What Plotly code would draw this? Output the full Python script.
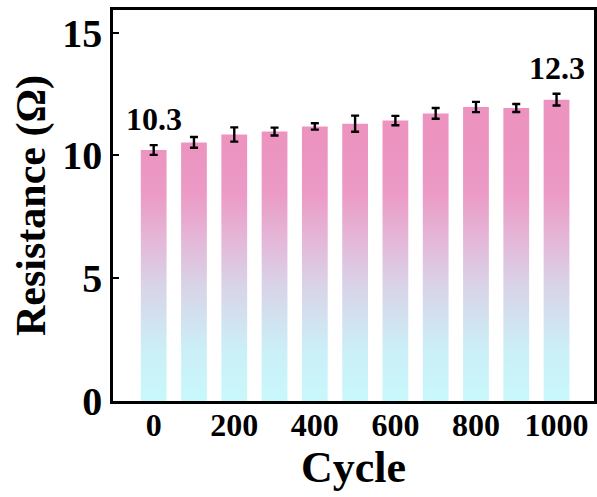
import plotly.graph_objects as go

cycles = [0, 100, 200, 300, 400, 500, 600, 700, 800, 900, 1000]
resistance = [10.22, 10.53, 10.85, 10.97, 11.18, 11.29, 11.42, 11.71, 11.97, 11.93, 12.27]
errors = [0.20, 0.22, 0.29, 0.16, 0.13, 0.33, 0.19, 0.22, 0.21, 0.16, 0.24]
x_ticks = [0, 200, 400, 600, 800, 1000]
y_ticks = [0, 5, 10, 15]
labels = {0: "10.3", 1000: "12.3"}

BAR_W = 64
FONT = "Liberation Serif"
gradient = [[0.0, "#c8f8fb"], [0.2, "#cbeff7"], [0.45, "#d9d3e7"], [0.62, "#e4b8d8"],
            [0.8, "#eb9bc6"], [1.0, "#ec93c0"]]

fig = go.Figure()
for c, v in zip(cycles, resistance):
    xs = [c - BAR_W / 2, c + BAR_W / 2, c + BAR_W / 2, c - BAR_W / 2, c - BAR_W / 2]
    ys = [0, 0, v, v, 0]
    fig.add_trace(go.Scatter(
        x=xs, y=ys, mode="lines", fill="toself", line=dict(width=0),
        fillgradient=dict(type="vertical", colorscale=gradient, start=0, stop=10.5),
        hoverinfo="skip", showlegend=False))

fig.add_trace(go.Scatter(
    x=cycles, y=resistance, mode="markers", marker=dict(size=1, opacity=0),
    error_y=dict(type="data", array=errors, color="black", thickness=2.4, width=4),
    showlegend=False))

for c, v, e in zip(cycles, resistance, errors):
    if c in labels:
        fig.add_annotation(x=c, y=v + e, text="<b>%s</b>" % labels[c], showarrow=False,
                           yanchor="bottom", yshift=6,
                           font=dict(family=FONT, size=32, color="black"))

fig.update_layout(
    width=597, height=497,
    margin=dict(l=113, r=3, t=10, b=96),
    paper_bgcolor="white", plot_bgcolor="white",
    font=dict(family=FONT, color="black"),
)
fig.update_xaxes(
    range=[-101, 1093], tickvals=x_ticks, ticktext=["<b>%d</b>" % t for t in x_ticks],
    tickfont=dict(family=FONT, size=32), ticks="", showgrid=False, zeroline=False,
    ticklabelstandoff=-6,
    showline=True, linecolor="black", linewidth=2.5, mirror=True, automargin=False,
    title=dict(text="<b>Cycle</b>", font=dict(family=FONT, size=44), standoff=0),
)
fig.update_yaxes(
    range=[0, 15.92], tickvals=y_ticks, ticktext=["<b>%d</b>" % t for t in y_ticks],
    tickfont=dict(family=FONT, size=40), ticks="inside", ticklen=6, tickwidth=2,
    tickcolor="black", showgrid=False, zeroline=False, automargin=False,
    showline=True, linecolor="black", linewidth=2.5, mirror=True,
    title=dict(text="<b>Resistance (Ω)</b>", font=dict(family=FONT, size=42), standoff=4),
)

fig.write_html("out.html", config={"displayModeBar": False},
               post_script="document.body.style.margin='0px';")
